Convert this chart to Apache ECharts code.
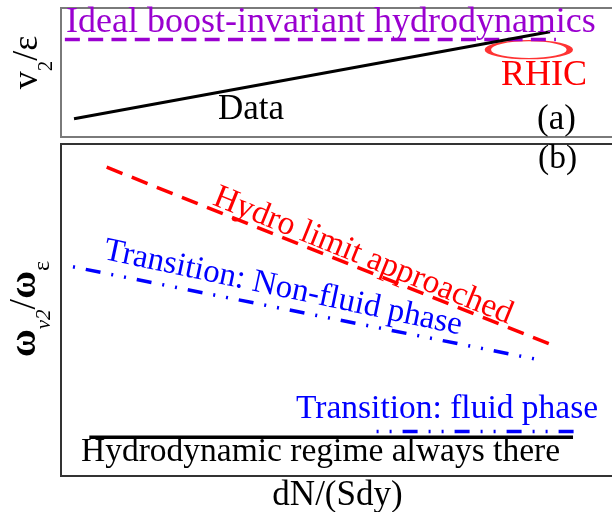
<!DOCTYPE html>
<html><head><meta charset="utf-8">
<script src="https://cdn.jsdelivr.net/npm/echarts@6/dist/echarts.min.js"></script>
<style>html,body{margin:0;padding:0;background:#fff}#c{width:612px;height:512px}</style>
</head><body><div id="c"></div>
<script>
// Schematic units: x = dN/(Sdy) on 0..10, y on 0..1 in each panel
// Panel (a)
const idealX = [0.07, 8.95];
const idealY = [0.756, 0.756];
const dataX = [0.235, 8.843];
const dataY = [0.142, 0.816];
const rhicX = [8.46];
const rhicY = [0.677];
// Panel (b)
const hydroLimitX = [0.826, 8.873];
const hydroLimitY = [0.930, 0.395];
const nonFluidX = [0.217, 8.734];
const nonFluidY = [0.630, 0.347];
const fluidX = [5.707, 9.349];
const fluidY = [0.134, 0.134];
const regimeX = [0.512, 9.259];
const regimeY = [0.117, 0.117];

const pairs = (xs, ys) => xs.map((x, i) => [x, ys[i]]);
const FONT = "'Liberation Serif', 'Times New Roman', serif";
const MID = 0.32; // middle-to-baseline ratio

function txt(str, x, baseY, size, color, deg) {
  return {
    type: 'text', x: x, y: baseY, rotation: (deg || 0) * Math.PI / 180,
    style: { text: str, x: 0, y: -MID * size, fill: color, fontFamily: FONT,
             fontSize: size, align: 'left', verticalAlign: 'middle' },
    z: 10
  };
}

const hiddenAxis = (gi) => ({
  type: 'value', gridIndex: gi, min: 0, max: 10,
  axisLine: { show: false }, axisTick: { show: false },
  axisLabel: { show: false }, splitLine: { show: false }
});
const hiddenY = (gi) => ({
  type: 'value', gridIndex: gi, min: 0, max: 1,
  axisLine: { show: false }, axisTick: { show: false },
  axisLabel: { show: false }, splitLine: { show: false }
});

const chart = echarts.init(document.getElementById('c'), null, { renderer: 'canvas' });
const xb = hiddenAxis(1);
xb.name = 'dN/(Sdy)';
xb.nameLocation = 'middle';
xb.nameGap = 2;
xb.nameTextStyle = { fontFamily: FONT, fontSize: 35, color: '#000' };

chart.setOption({
  animation: false,
  backgroundColor: '#fff',
  grid: [
    { left: 61, top: 8, width: 553, height: 129, show: true, borderColor: '#7a7a7a', borderWidth: 2,
      backgroundColor: 'transparent', containLabel: false, outerBoundsMode: 'none' },
    { left: 61, top: 144, width: 553, height: 332, show: true, borderColor: '#333', borderWidth: 2,
      backgroundColor: 'transparent', containLabel: false, outerBoundsMode: 'none' }
  ],
  xAxis: [hiddenAxis(0), xb],
  yAxis: [hiddenY(0), hiddenY(1)],
  series: [
    { type: 'scatter', xAxisIndex: 0, yAxisIndex: 0, data: pairs(rhicX, rhicY),
      symbol: 'circle', symbolSize: [82, 18], z: 1,
      itemStyle: { color: 'rgba(0,0,0,0)', borderColor: '#ff0000', borderWidth: 3 } },
    { type: 'line', xAxisIndex: 0, yAxisIndex: 0, data: pairs(idealX, idealY), symbol: 'none', z: 2,
      lineStyle: { color: '#9a00d0', width: 3.5, type: [15, 8.3] } },
    { type: 'line', xAxisIndex: 0, yAxisIndex: 0, data: pairs(dataX, dataY), symbol: 'none', z: 3,
      lineStyle: { color: '#000', width: 3 } },
    { type: 'line', xAxisIndex: 1, yAxisIndex: 1, data: pairs(hydroLimitX, hydroLimitY), symbol: 'none',
      lineStyle: { color: '#ff0000', width: 3.5, type: [17, 10] } },
    { type: 'line', xAxisIndex: 1, yAxisIndex: 1, data: pairs(nonFluidX, nonFluidY), symbol: 'none',
      lineStyle: { color: '#0000ff', width: 3.5, type: [15, 11, 2, 11, 2, 11], dashOffset: 39 } },
    { type: 'line', xAxisIndex: 1, yAxisIndex: 1, data: pairs(fluidX, fluidY), symbol: 'none',
      lineStyle: { color: '#0000ff', width: 3.5, type: [15, 11, 2, 11, 2, 11], dashOffset: 26 } },
    { type: 'line', xAxisIndex: 1, yAxisIndex: 1, data: pairs(regimeX, regimeY), symbol: 'none',
      lineStyle: { color: '#000', width: 3.5 } }
  ],
  graphic: [
    txt('Ideal boost-invariant hydrodynamics', 66, 34, 36, '#9a00d0'),
    txt('Data', 218, 121, 35, '#000'),
    txt('RHIC', 501, 87, 36, '#ff0000'),
    txt('(a)', 537, 131, 35, '#000'),
    txt('(b)', 538, 170, 33.5, '#000'),
    txt('Hydro limit approached', 210.7, 206, 33.5, '#ff0000', -22),
    txt('Transition: Non-fluid phase', 102, 260.5, 33, '#0000ff', -12),
    txt('Transition: fluid phase', 296, 420, 33.5, '#0000ff'),
    txt('Hydrodynamic regime always there', 81, 462.7, 33.5, '#000'),
    {
      type: 'text', x: 39.3, y: 62.5, rotation: Math.PI / 2, z: 10,
      style: {
        text: '{m|v}{s|2}{m|/ε}', x: 0, y: -MID * 36, align: 'center', verticalAlign: 'middle',
        rich: {
          m: { fontFamily: FONT, fontSize: 36, fill: '#000', color: '#000' },
          s: { fontFamily: FONT, fontSize: 21, fill: '#000', color: '#000', padding: [38, 0, 0, 0] }
        }
      }
    },
    {
      type: 'text', x: 37.3, y: 309, rotation: Math.PI / 2, z: 10,
      style: {
        text: '{m|ω}{s|ν2}{n|/}{m|ω}{e|ε}', x: 0, y: -MID * 37, align: 'center', verticalAlign: 'middle',
        rich: {
          m: { fontFamily: FONT, fontSize: 38, fontWeight: 'bold', fill: '#000', color: '#000' },
          n: { fontFamily: FONT, fontSize: 38, fill: '#000', color: '#000' },
          s: { fontFamily: FONT, fontSize: 21, fontStyle: 'italic', fill: '#000', color: '#000', padding: [38, 0, 0, 0] },
          e: { fontFamily: FONT, fontSize: 24, fill: '#000', color: '#000', padding: [34, 0, 0, 0] }
        }
      }
    }
  ]
});
</script>
</body></html>
